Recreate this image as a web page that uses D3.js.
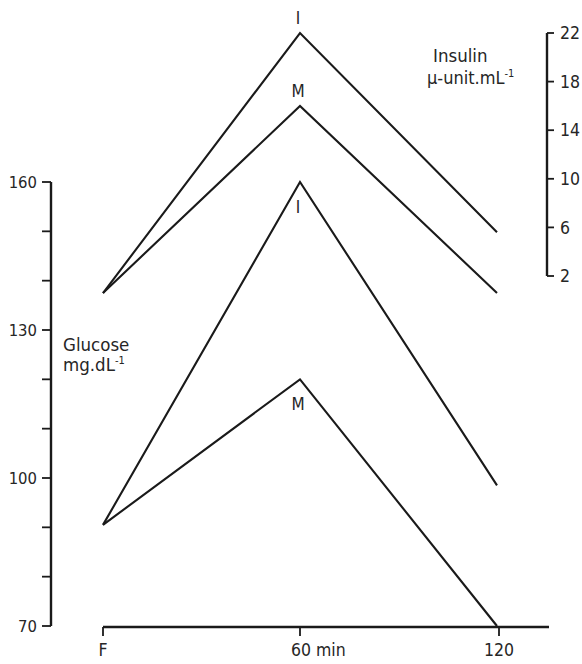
<!DOCTYPE html>
<html>
<head>
<meta charset="utf-8">
<script src="https://cdn.jsdelivr.net/npm/d3@7"></script>
<style>
  body { margin: 0; background: #fff; }
  svg text { font-family: "Liberation Sans Narrow", "DejaVu Sans Condensed", "Roboto Condensed", sans-serif; fill: #262626; }
</style>
</head>
<body>
<div id="chart"></div>
<script>
// time points (min); F = fasting sample at 0
var times = [0, 60, 120];
var xTickVals = [0, 60, 120];
var xTickLabels = ["F", "60 min", "120"];

// insulin, µ-unit/mL (right axis)
var insulinI = [0.6, 22, 5.6];
var insulinM = [0.6, 16, 0.6];
// glucose, mg/dL (left axis)
var glucoseI = [90.5, 160, 98.5];
var glucoseM = [90.5, 120, 70];

var glucoseTicks = [70, 80, 90, 100, 110, 120, 130, 140, 150, 160];
var glucoseLabels = [70, 100, 130, 160];
var insulinTicks = [2, 6, 10, 14, 18, 22];

function init() {
    var W = 582, H = 664;
    var svg = d3.select("#chart").append("svg")
        .attr("width", W)
        .attr("height", H);

    var x = d3.scaleLinear().domain([0, 120]).range([103, 497]);
    var yG = d3.scaleLinear().domain([70, 160]).range([626, 182]);
    var yI = d3.scaleLinear().domain([2, 22]).range([276, 33]);

    var ink = "#1a1a1a";

    // glucose axis (left)
    var gAxis = svg.append("g");
    gAxis.append("line")
        .attr("x1", 51).attr("x2", 51)
        .attr("y1", yG(160)).attr("y2", yG(70))
        .attr("stroke", ink).attr("stroke-width", 2.4);
    gAxis.selectAll("line.tick").data(glucoseTicks).enter()
        .append("line").attr("class", "tick")
        .attr("x1", 42).attr("x2", 51)
        .attr("y1", d => yG(d)).attr("y2", d => yG(d))
        .attr("stroke", ink).attr("stroke-width", 1.8);
    gAxis.selectAll("text").data(glucoseLabels).enter()
        .append("text")
        .attr("x", 37).attr("y", d => yG(d))
        .attr("dy", "0.35em")
        .attr("text-anchor", "end")
        .style("font-size", "16.5px")
        .text(d => d);

    // insulin axis (right)
    var iAxis = svg.append("g");
    iAxis.append("line")
        .attr("x1", 547).attr("x2", 547)
        .attr("y1", yI(22)).attr("y2", yI(2))
        .attr("stroke", ink).attr("stroke-width", 2.4);
    iAxis.selectAll("line.tick").data(insulinTicks).enter()
        .append("line").attr("class", "tick")
        .attr("x1", 547).attr("x2", 554)
        .attr("y1", d => yI(d)).attr("y2", d => yI(d))
        .attr("stroke", ink).attr("stroke-width", 1.8);
    iAxis.selectAll("text").data(insulinTicks).enter()
        .append("text")
        .attr("x", 560).attr("y", d => yI(d))
        .attr("dy", "0.35em")
        .style("font-size", "17.5px")
        .text(d => d);

    // time axis
    var xAxis = svg.append("g");
    xAxis.append("line")
        .attr("x1", 103).attr("x2", 549)
        .attr("y1", 627).attr("y2", 627)
        .attr("stroke", ink).attr("stroke-width", 2.4);
    xAxis.selectAll("line.tick").data(xTickVals).enter()
        .append("line").attr("class", "tick")
        .attr("x1", d => x(d) + (d == 120 ? 2 : 0)).attr("x2", d => x(d) + (d == 120 ? 2 : 0))
        .attr("y1", 627).attr("y2", 636)
        .attr("stroke", ink).attr("stroke-width", 1.8);
    xAxis.selectAll("text").data(xTickVals).enter()
        .append("text")
        .attr("x", (d, i) => i == 1 ? x(d) - 9 : x(d) + (d == 120 ? 2 : 0))
        .attr("y", 656)
        .attr("text-anchor", (d, i) => i == 1 ? "start" : "middle")
        .style("font-size", "17.5px")
        .text((d, i) => xTickLabels[i]);

    // lines
    var lineI = d3.line().x((d, i) => x(times[i])).y(d => yI(d));
    var lineG = d3.line().x((d, i) => x(times[i])).y(d => yG(d));

    [insulinI, insulinM].forEach(function (s) {
        svg.append("path").datum(s)
            .attr("d", lineI)
            .attr("fill", "none")
            .attr("stroke", ink)
            .attr("stroke-width", 2.1);
    });
    [glucoseI, glucoseM].forEach(function (s) {
        svg.append("path").datum(s)
            .attr("d", lineG)
            .attr("fill", "none")
            .attr("stroke", ink)
            .attr("stroke-width", 2.1);
    });

    // peak markers
    var peaks = [
        { t: "I", y: yI(insulinI[1]) - 9 },
        { t: "M", y: yI(insulinM[1]) - 9 },
        { t: "I", y: yG(glucoseI[1]) + 31 },
        { t: "M", y: yG(glucoseM[1]) + 31 }
    ];
    svg.selectAll("text.peak").data(peaks).enter()
        .append("text").attr("class", "peak")
        .attr("x", x(60) - 2).attr("y", d => d.y)
        .attr("text-anchor", "middle")
        .style("font-size", "17px")
        .text(d => d.t);

    // axis titles
    var gt = svg.append("text").attr("x", 63).attr("y", 351).style("font-size", "18.5px");
    gt.append("tspan").text("Glucose");
    var gt2 = svg.append("text").attr("x", 63).attr("y", 371).style("font-size", "18.5px");
    gt2.append("tspan").text("mg.dL");
    gt2.append("tspan").attr("dy", -7).style("font-size", "11px").text("-1");

    svg.append("text").attr("x", 433).attr("y", 62).style("font-size", "18.5px").text("Insulin");
    var it2 = svg.append("text").attr("x", 427).attr("y", 84).style("font-size", "18px");
    it2.append("tspan").text("\u00b5-unit.mL");
    it2.append("tspan").attr("dy", -7).style("font-size", "11px").text("-1");
}

window.onload = init;
</script>
</body>
</html>
